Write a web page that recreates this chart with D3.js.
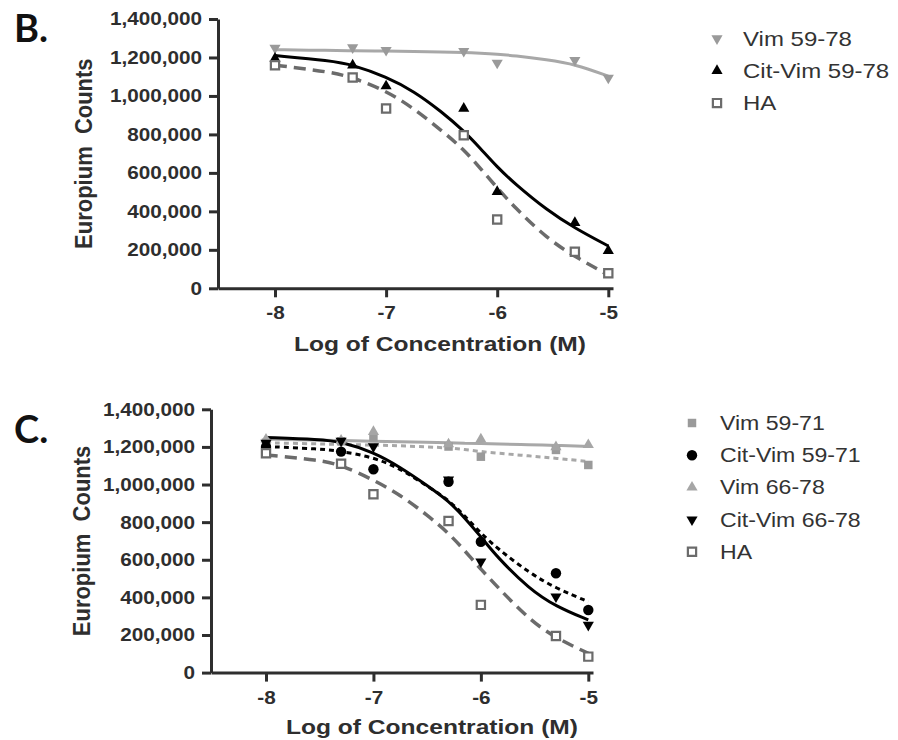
<!DOCTYPE html>
<html><head><meta charset="utf-8">
<script src="https://cdn.jsdelivr.net/npm/d3@7"></script>
<style>body{margin:0;background:#fff} svg{display:block}</style>
</head><body>
<svg id="chart" width="898" height="740"></svg>
<script>
// ---------- DATA ----------
const pointLogConc = [-8, -7.301, -7, -6.301, -6, -5.301, -5];
const xTicks = [-8, -7, -6, -5];
const yTicks = [0, 200000, 400000, 600000, 800000, 1000000, 1200000, 1400000];
const curveLogConc = [-8, -7.5, -7.3, -7, -6.75, -6.5, -6.3, -6.15, -6, -5.85, -5.55, -5.3, -5];

// Panel B points
const vim5978 = [1250000, 1252000, 1238000, 1233000, 1172000, 1186000, 1094000];
const citVim5978 = [1195000, 1160000, 1051000, 935000, 502000, 341000, 195000];
const haB = [1160000, 1096000, 935000, 796000, 358000, 190000, 78000];
// Panel B fitted curves
const vim5978Fit = [1240000, 1237000, 1235000, 1233000, 1231000, 1228000, 1226000, 1222000, 1217000, 1210000, 1188000, 1165000, 1103000];
const citVim5978Fit = [1210000, 1183000, 1162000, 1100000, 1025000, 918000, 818000, 726000, 630000, 548000, 405000, 312000, 220000];
const haBFit = [1160000, 1125000, 1096000, 1027000, 935000, 820000, 722000, 622000, 522000, 425000, 258000, 164000, 69000];

// Panel C points
const vim5971 = [1222000, 1230000, 1250000, 1202000, 1148000, 1184000, 1104000];
const citVim5971 = [1200000, 1175000, 1081000, 1015000, 696000, 528000, 333000];
const vim6678 = [1240000, 1235000, 1281000, 1215000, 1241000, 1200000, 1211000];
const citVim6678 = [1221000, 1232000, 1202000, 1025000, 590000, 404000, 253000];
const haC = [1166000, 1110000, 948000, 806000, 360000, 195000, 85000];
// Panel C fitted curves
const vim5971Fit = [1222000, 1216000, 1213000, 1210000, 1206000, 1200000, 1195000, 1186000, 1175000, 1167000, 1152000, 1140000, 1122000];
const citVim5971Fit = [1202000, 1190000, 1177000, 1145000, 1085000, 992000, 918000, 833000, 741000, 662000, 530000, 448000, 377000];
const vim6678Fit = [1241000, 1237000, 1234000, 1230000, 1228000, 1225000, 1222000, 1220000, 1218000, 1216000, 1212000, 1208000, 1202000];
const citVim6678Fit = [1250000, 1240000, 1228000, 1172000, 1092000, 995000, 913000, 823000, 723000, 615000, 445000, 351000, 280000];
const haCFit = [1157000, 1130000, 1104000, 1025000, 945000, 838000, 742000, 648000, 550000, 458000, 282000, 182000, 103000];

const panelLabels = ["B.", "C."];
const yTitle = "Europium  Counts";
const xTitle = "Log of Concentration (M)";

// ---------- DRAW ----------
const svg = d3.select("#chart");
svg.append("rect").attr("width", 898).attr("height", 740).attr("fill", "#fff");
const AX = "#2e2e2e";
const FONT = "'Liberation Sans', Arial, Helvetica, sans-serif";

function stretch(sel, sx) {
  sel.each(function () {
    const t = d3.select(this);
    const x = +t.attr("x") || 0;
    t.attr("x", 0).attr("transform", `translate(${x},0) scale(${sx},1)`);
  });
}

function marker(g, type, cx, cy) {
  let s;
  if (type === "tri" || type === "triDown") {
    s = g.append("path").attr("d", d3.symbol(d3.symbolTriangle, 54)())
      .attr("transform", `translate(${cx},${cy})${type === "triDown" ? " rotate(180)" : ""}`);
  } else if (type === "square") {
    s = g.append("path").attr("d", d3.symbol(d3.symbolSquare, 72)()).attr("transform", `translate(${cx},${cy})`);
  } else if (type === "openSquare") {
    s = g.append("path").attr("d", d3.symbol(d3.symbolSquare, 68)()).attr("transform", `translate(${cx},${cy})`);
  } else {
    s = g.append("path").attr("d", d3.symbol(d3.symbolCircle, 85)()).attr("transform", `translate(${cx},${cy})`);
  }
  return s;
}

function styleMarker(s, sr) {
  if (sr.marker === "openSquare") s.attr("fill", "#fff").attr("stroke", sr.mColor).attr("stroke-width", 2.2);
  else s.attr("fill", sr.mColor);
}

function panel(cfg) {
  const x = d3.scaleLinear().domain([-8, -5]).range(cfg.xr);
  const xAxisScale = d3.scaleLinear().domain([x.invert(cfg.ax), x.invert(cfg.xEnd)]).range([cfg.ax, cfg.xEnd]);
  const y = d3.scaleLinear().domain([0, 1400000]).range(cfg.yr);
  const g = svg.append("g");

  // curves
  const line = d3.line().x((d, i) => x(curveLogConc[i])).y(d => y(d)).curve(d3.curveBasis);
  cfg.series.forEach(sr => {
    g.append("path").datum(sr.fit).attr("d", line)
      .attr("fill", "none").attr("stroke", sr.lColor).attr("stroke-width", sr.lWidth)
      .attr("stroke-dasharray", sr.dash || null);
  });
  // points
  cfg.series.forEach(sr => {
    sr.values.forEach((v, i) => {
      styleMarker(marker(g, sr.marker, x(pointLogConc[i]), y(v)), sr);
    });
  });

  // axes
  const ya = g.append("g").attr("transform", `translate(${cfg.ax},0)`)
    .call(d3.axisLeft(y).tickValues(yTicks).tickFormat(d3.format(",")).tickSize(9).tickSizeOuter(0).tickPadding(7));
  const xa = g.append("g").attr("transform", `translate(0,${y(0)})`)
    .call(d3.axisBottom(xAxisScale).tickValues(xTicks).tickFormat(d => d).tickSize(9).tickSizeOuter(0).tickPadding(9));
  [ya, xa].forEach(a => {
    a.select(".domain").attr("stroke", AX).attr("stroke-width", 3);
    a.selectAll(".tick line").attr("stroke", AX).attr("stroke-width", 3);
    a.selectAll(".tick text").attr("fill", AX).attr("font-family", FONT)
      .attr("font-weight", "bold").attr("font-size", 18.5);
  });
  ya.selectAll(".tick text").call(stretch, 1.12);
  xa.selectAll(".tick text").attr("transform", "scale(1.12,1)");

  // axis titles
  g.append("text").attr("transform", `translate(${cfg.yTitleX},${(cfg.yr[0] + cfg.yr[1]) / 2}) scale(1.1,1) rotate(-90)`)
    .attr("text-anchor", "middle").attr("font-family", FONT).attr("font-weight", "bold")
    .attr("font-size", 22).attr("fill", AX).style("white-space", "pre").text(yTitle);
  g.append("text").attr("transform", `translate(${cfg.xTitleX},${cfg.xTitleY}) scale(1.17,1)`)
    .attr("text-anchor", "middle").attr("font-family", FONT).attr("font-weight", "bold")
    .attr("font-size", 21).attr("fill", AX).text(xTitle);

  // panel label
  g.append("text").attr("x", 14).attr("y", cfg.labelY).attr("font-family", "Lato, 'Open Sans', sans-serif")
    .attr("font-weight", "bold").attr("font-size", 38).attr("fill", "#111").text(cfg.label);

  // legend
  cfg.series.forEach((sr, i) => {
    const ly = cfg.legY + i * cfg.legStep;
    styleMarker(marker(g, sr.marker, cfg.legMX, ly), sr);
    g.append("text").attr("transform", `translate(${cfg.legTX},${ly + 7}) scale(${cfg.legSX},1)`)
      .attr("font-family", FONT).attr("font-size", cfg.legFS).attr("fill", "#333").text(sr.name);
  });
}

const GRAY_M = "#9a9a9a", GRAY_L = "#a8a8a8", HA_C = "#6b6b6b";

panel({
  label: panelLabels[0], labelY: 42,
  xr: [275, 608.3], yr: [288.3, 19], ax: 218, xEnd: 613,
  yTitleX: 92, xTitleX: 440, xTitleY: 351,
  legY: 38.5, legStep: 32.3, legMX: 717, legTX: 743, legFS: 20, legSX: 1.2,
  series: [
    {name: "Vim 59-78", values: vim5978, fit: vim5978Fit, marker: "triDown", mColor: GRAY_M, lColor: GRAY_L, lWidth: 3},
    {name: "Cit-Vim 59-78", values: citVim5978, fit: citVim5978Fit, marker: "tri", mColor: "#000", lColor: "#000", lWidth: 3},
    {name: "HA", values: haB, fit: haBFit, marker: "openSquare", mColor: HA_C, lColor: HA_C, lWidth: 3.5, dash: "12,7"}
  ]
});

panel({
  label: panelLabels[1], labelY: 443,
  xr: [266, 588.3], yr: [672.6, 409.3], ax: 211, xEnd: 593,
  yTitleX: 90, xTitleX: 432, xTitleY: 734,
  legY: 423, legStep: 32.2, legMX: 692, legTX: 720, legFS: 21, legSX: 1.1,
  series: [
    {name: "Vim 59-71", values: vim5971, fit: vim5971Fit, marker: "square", mColor: GRAY_M, lColor: GRAY_L, lWidth: 3, dash: "5,4"},
    {name: "Cit-Vim 59-71", values: citVim5971, fit: citVim5971Fit, marker: "circle", mColor: "#000", lColor: "#000", lWidth: 3, dash: "5,4"},
    {name: "Vim 66-78", values: vim6678, fit: vim6678Fit, marker: "tri", mColor: "#a6a6a6", lColor: GRAY_L, lWidth: 3},
    {name: "Cit-Vim 66-78", values: citVim6678, fit: citVim6678Fit, marker: "triDown", mColor: "#000", lColor: "#000", lWidth: 3},
    {name: "HA", values: haC, fit: haCFit, marker: "openSquare", mColor: HA_C, lColor: HA_C, lWidth: 3.5, dash: "12,7"}
  ]
});
</script>
</body></html>
